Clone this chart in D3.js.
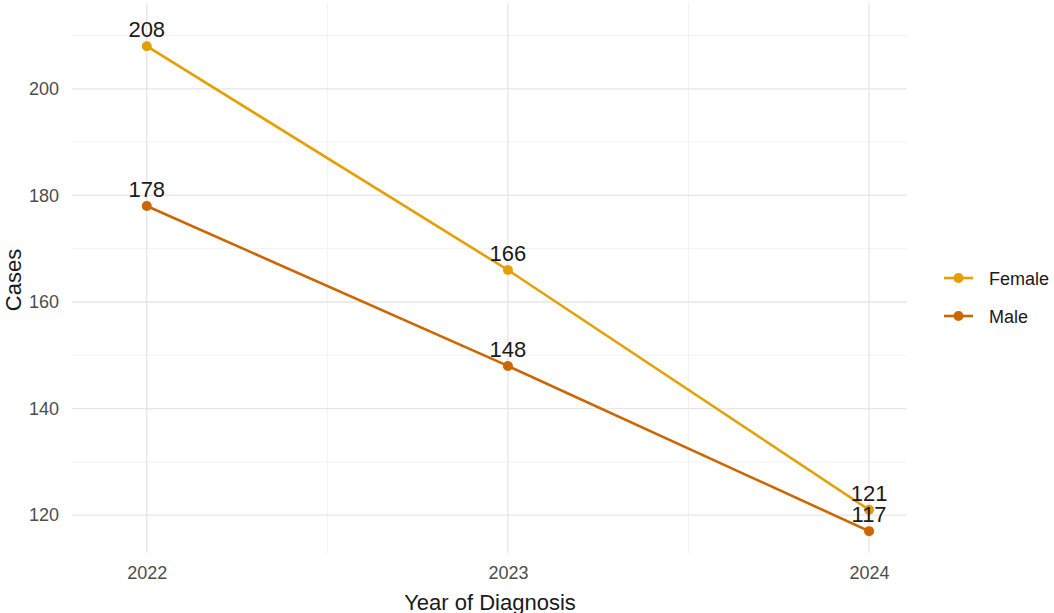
<!DOCTYPE html>
<html><head><meta charset="utf-8">
<script src="https://cdn.jsdelivr.net/npm/d3@7"></script>
<style>body{margin:0;background:#fff}svg{display:block}text{font-family:"Liberation Sans",Arial,sans-serif}</style>
</head><body>
<svg id="c" width="1054" height="613"></svg>
<script>
const years = [2022, 2023, 2024];
const seriesNames = ["Female", "Male"];
const female = [208, 166, 121];
const male = [178, 148, 117];
const yTicks = [120, 140, 160, 180, 200];
const yMinor = [130, 150, 170, 190, 210];
const xMinor = [2022.5, 2023.5];
const colors = {Female: "#E69F00", Male: "#CC6600"};

const svg = d3.select("#c");
const x = d3.scaleLinear().domain([2021.793, 2024.105]).range([72, 907]);
const y = d3.scaleLinear().domain([112.9, 216.1]).range([553, 3]);

const g = svg.append("g");
// minor grid
g.selectAll(".ym").data(yMinor).join("line")
  .attr("x1", 72).attr("x2", 907).attr("y1", d => y(d)).attr("y2", d => y(d))
  .attr("stroke", "#f2f2f2").attr("stroke-width", 1);
g.selectAll(".xm").data(xMinor).join("line")
  .attr("y1", 3).attr("y2", 553).attr("x1", d => x(d)).attr("x2", d => x(d))
  .attr("stroke", "#f2f2f2").attr("stroke-width", 1);
// major grid
g.selectAll(".yM").data(yTicks).join("line")
  .attr("x1", 72).attr("x2", 907).attr("y1", d => y(d)).attr("y2", d => y(d))
  .attr("stroke", "#e6e6e6").attr("stroke-width", 1.3);
g.selectAll(".xM").data(years).join("line")
  .attr("y1", 3).attr("y2", 553).attr("x1", d => x(d)).attr("x2", d => x(d))
  .attr("stroke", "#e6e6e6").attr("stroke-width", 1.3);

// axes labels via d3 axis (no domain/ticks lines)
const yAxis = svg.append("g").attr("transform", "translate(72,0)")
  .call(d3.axisLeft(y).tickValues(yTicks).tickSize(0).tickPadding(13));
const xAxis = svg.append("g").attr("transform", "translate(0,553)")
  .call(d3.axisBottom(x).tickValues(years).tickFormat(d3.format("d")).tickSize(0).tickPadding(13));
[yAxis, xAxis].forEach(a => {
  a.select(".domain").remove();
  a.selectAll("text").attr("fill", "#4d4d4d").style("font-size", "18px")
    .style("font-family", '"Liberation Sans",Arial,sans-serif');
});

const data = [
  {name: "Female", values: female},
  {name: "Male", values: male}
];
const line = d3.line().x((d, i) => x(years[i])).y(d => y(d));
data.forEach(s => {
  svg.append("path").datum(s.values).attr("d", line)
    .attr("fill", "none").attr("stroke", colors[s.name]).attr("stroke-width", 2.6);
  svg.selectAll(null).data(s.values).join("circle")
    .attr("cx", (d, i) => x(years[i])).attr("cy", d => y(d)).attr("r", 5)
    .attr("fill", colors[s.name]);
});
data.forEach(s => {
  svg.selectAll(null).data(s.values).join("text")
    .attr("x", (d, i) => x(years[i])).attr("y", d => y(d) - 9)
    .attr("text-anchor", "middle").attr("fill", "#1a1a1a").style("font-size", "22px")
    .text(d => d);
});

// axis titles
svg.append("text").attr("x", 490).attr("y", 610).attr("text-anchor", "middle")
  .style("font-size", "22px").attr("fill", "#1a1a1a").text("Year of Diagnosis");
svg.append("text").attr("transform", "translate(21,280) rotate(-90)").attr("text-anchor", "middle")
  .style("font-size", "22px").attr("fill", "#1a1a1a").text("Cases");

// legend
const lg = svg.append("g");
seriesNames.forEach((n, i) => {
  const cy = 278 + i * 38;
  lg.append("line").attr("x1", 944).attr("x2", 973).attr("y1", cy).attr("y2", cy)
    .attr("stroke", colors[n]).attr("stroke-width", 2.6);
  lg.append("circle").attr("cx", 958.5).attr("cy", cy).attr("r", 5).attr("fill", colors[n]);
  lg.append("text").attr("x", 989).attr("y", cy + 6.5).style("font-size", "18px")
    .attr("fill", "#1a1a1a").text(n);
});
</script>
</body></html>
